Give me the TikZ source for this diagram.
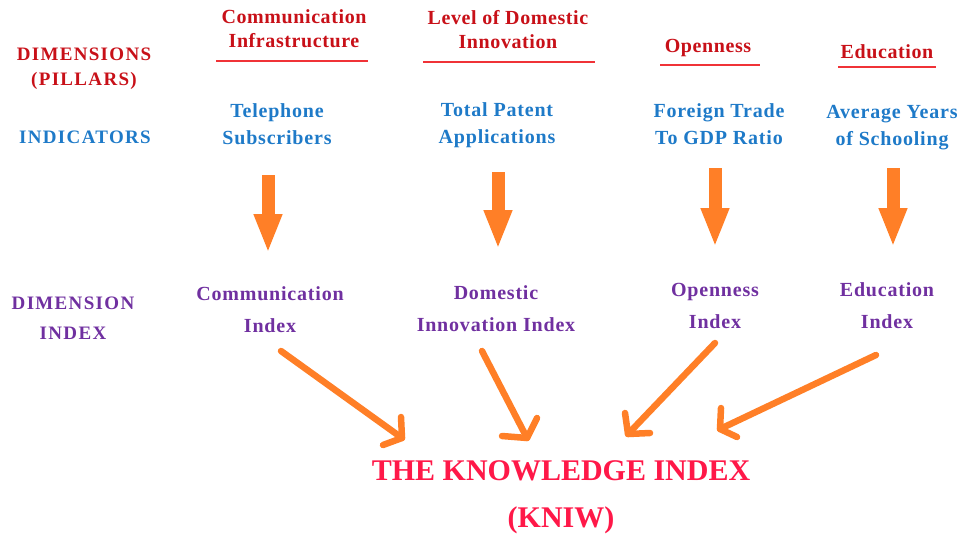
\documentclass[tikz,border=0pt]{standalone}
\usepackage{fontspec}
\setmainfont{Liberation Serif}
\usetikzlibrary{arrows.meta}

\definecolor{pillarred}{RGB}{200,16,24}
\definecolor{rulered}{RGB}{240,50,55}
\definecolor{indblue}{RGB}{30,122,200}
\definecolor{idxpurple}{RGB}{112,48,160}
\definecolor{arroworange}{RGB}{255,127,39}
\definecolor{titlered}{RGB}{255,24,72}

\tikzset{
  lbl/.style={inner sep=0pt, align=center},
  pillar/.style={lbl, text=pillarred, font=\fontsize{20}{24}\selectfont\bfseries\addfontfeature{LetterSpace=3}},
  indicator/.style={lbl, text=indblue, font=\fontsize{20}{27}\selectfont\bfseries\addfontfeature{LetterSpace=4}},
  dimidx/.style={lbl, text=idxpurple, font=\fontsize{20}{32}\selectfont\bfseries\addfontfeature{LetterSpace=4}},
  rowlabel/.style={lbl, font=\fontsize{19}{25}\selectfont\bfseries\addfontfeature{LetterSpace=7}},
  title/.style={lbl, text=titlered, font=\fontsize{30}{47}\selectfont\bfseries},
  pillarrule/.style={draw=rulered, line width=2pt},
  blockarrow/.style={draw=arroworange, line width=13pt,
    -{Triangle[width=26pt,length=39pt]}, arroworange},
  handarrow/.style={draw=arroworange, line width=6.5pt, line cap=round, line join=round},
}

\begin{document}
\begin{tikzpicture}[x=1pt,y=-1pt]
\useasboundingbox (0,0) rectangle (963,533);

% row labels on the left
\node[rowlabel, text=pillarred] (rowdim) at (84,68.5) {DIMENSIONS\\ (PILLARS)};
\node[rowlabel, text=indblue] (rowind) at (85,137.5) {INDICATORS};
\node[rowlabel, text=idxpurple, font=\fontsize{19}{30}\selectfont\bfseries\addfontfeature{LetterSpace=7}] (rowidx) at (73,318) {DIMENSION\\ INDEX};

% pillars
\node[pillar] (p1) at (294,29) {Communication\\ Infrastructure};
\node[pillar] (p2) at (508,30) {Level of Domestic\\ Innovation};
\node[pillar] (p3) at (708,48) {Openness};
\node[pillar] (p4) at (887,52) {Education};

% rules beneath the pillars
\draw[pillarrule] (216,61) coordinate (r1a) -- (368,61) coordinate (r1b);
\draw[pillarrule] (423,62) coordinate (r2a) -- (595,62) coordinate (r2b);
\draw[pillarrule] (660,65) coordinate (r3a) -- (760,65) coordinate (r3b);
\draw[pillarrule] (838,67) coordinate (r4a) -- (936,67) coordinate (r4b);

% indicators
\node[indicator] (i1) at (277,124.5) {Telephone\\ Subscribers};
\node[indicator] (i2) at (497,125) {Total Patent\\ Applications};
\node[indicator] (i3) at (719,124.5) {Foreign Trade\\ To GDP Ratio};
\node[indicator] (i4) at (892,127.5) {Average Years\\ of Schooling};

% dimension indices
\node[dimidx] (d1) at (270,309.5) {Communication\\ Index};
\node[dimidx] (d2) at (496,309) {Domestic\\ Innovation Index};
\node[dimidx] (d3) at (715,306) {Openness\\ Index};
\node[dimidx] (d4) at (887,306) {Education\\ Index};

% composite index
\node[title] (kniw) at (561,497.5) {THE KNOWLEDGE INDEX\\ (KNIW)};

% indicator -> dimension index block arrows
\coordinate (v1s) at (268,175); \coordinate (v1e) at (268,253);
\coordinate (v2s) at (498,172); \coordinate (v2e) at (498,249);
\coordinate (v3s) at (715,168); \coordinate (v3e) at (715,247);
\coordinate (v4s) at (893,168); \coordinate (v4e) at (893,247);
\foreach \k in {1,...,4}{
  \draw[blockarrow] (v\k s) -- (v\k e);
}

% dimension index -> knowledge index, hand-drawn arrows
\coordinate (h1s) at (281,351); \coordinate (h1t) at (402,438);
\coordinate (h1a) at (401,417); \coordinate (h1b) at (383,445);
\coordinate (h2s) at (482,351); \coordinate (h2t) at (527,438);
\coordinate (h2a) at (537,418); \coordinate (h2b) at (502,436);
\coordinate (h3s) at (715,343); \coordinate (h3t) at (628,434);
\coordinate (h3a) at (625,413); \coordinate (h3b) at (650,433);
\coordinate (h4s) at (876,355); \coordinate (h4t) at (720,429);
\coordinate (h4a) at (721,408); \coordinate (h4b) at (737,437);
\foreach \k in {1,...,4}{
  \draw[handarrow] (h\k s) -- (h\k t);
  \draw[handarrow] (h\k a) -- (h\k t) -- (h\k b);
}
\end{tikzpicture}
\end{document}
